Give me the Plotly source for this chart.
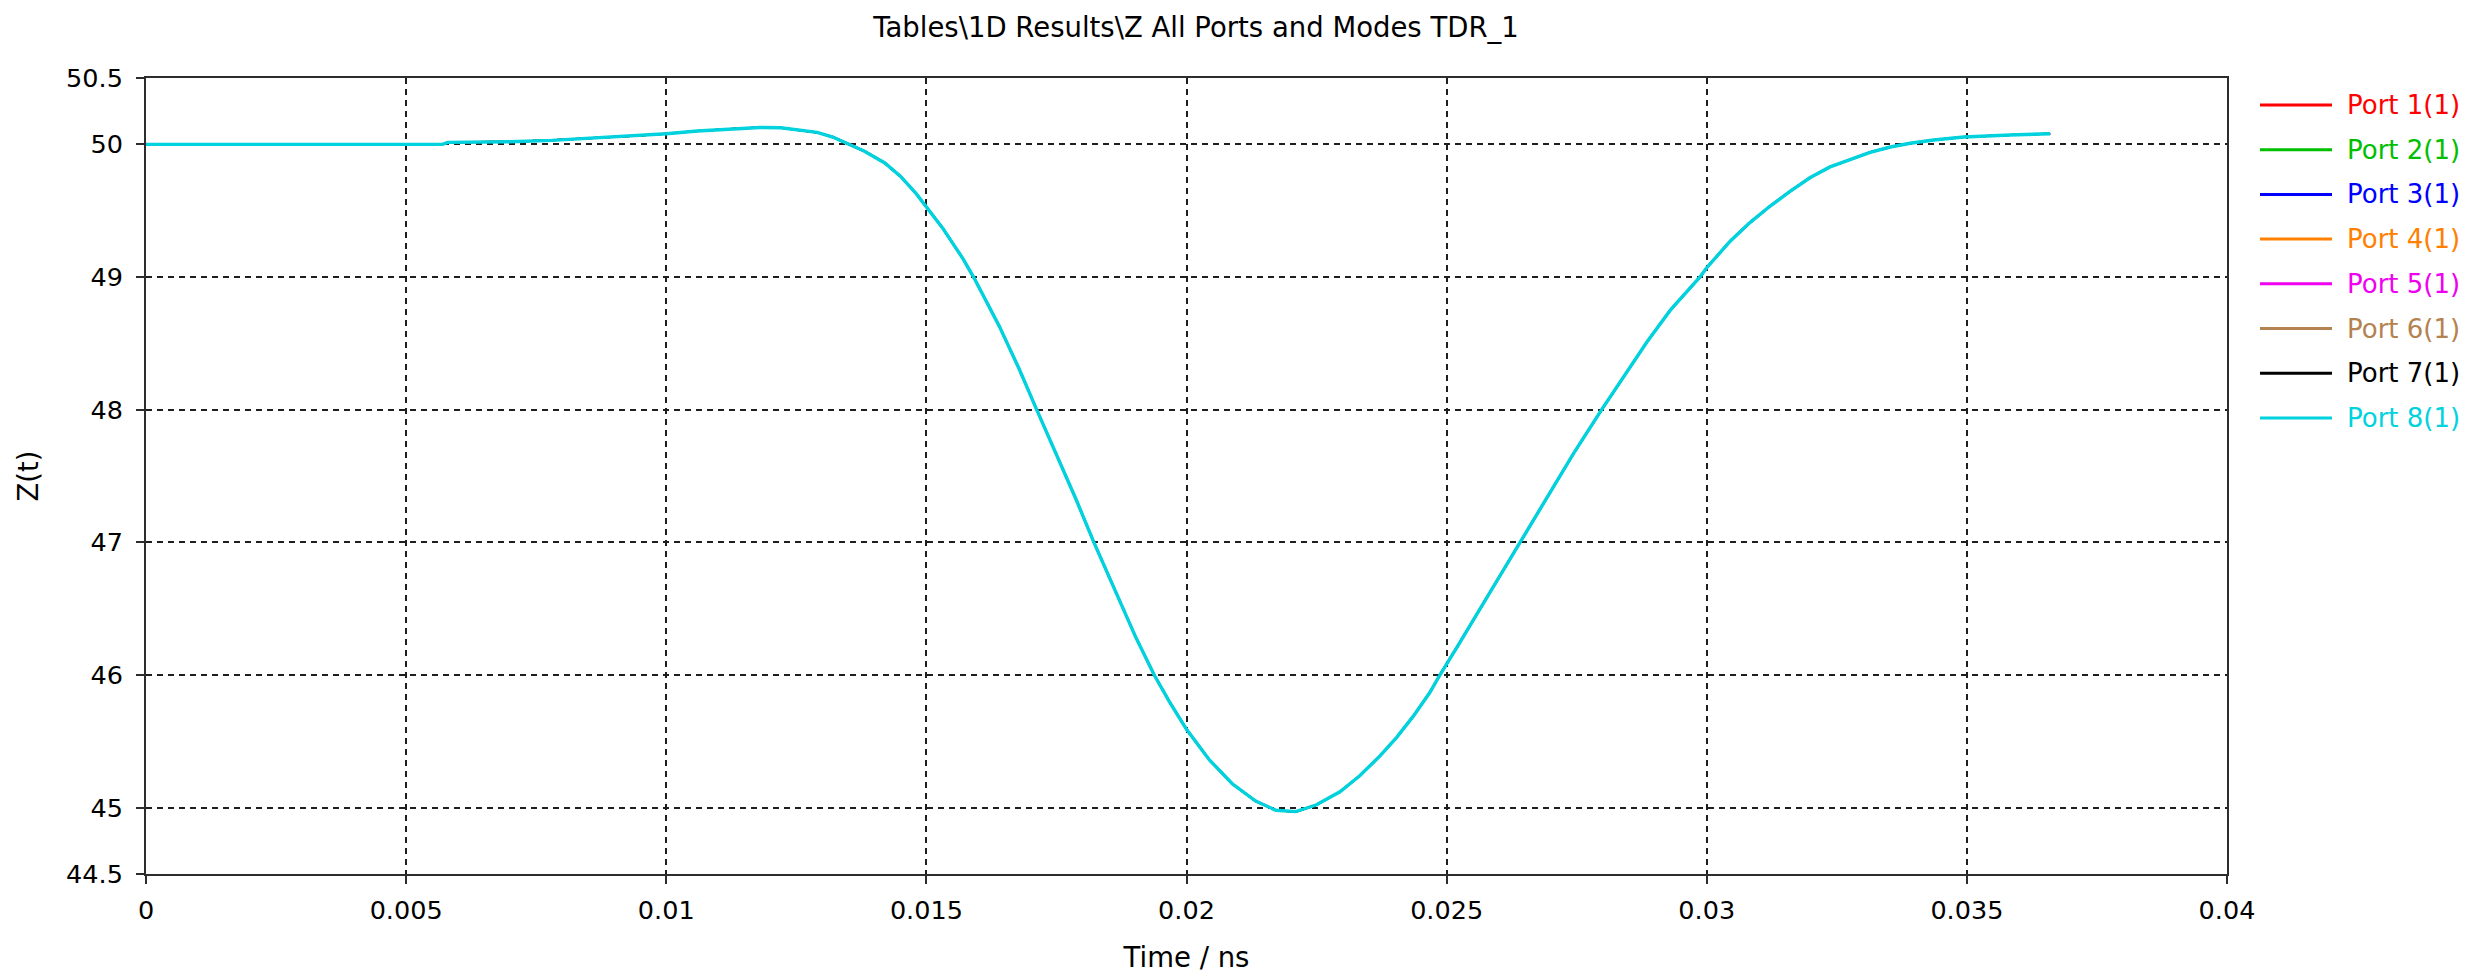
import plotly.graph_objects as go

# ---- data ----
time_ns = [0.0, 0.0057, 0.0058, 0.0070, 0.0078, 0.0088, 0.0094, 0.0100, 0.0106,
           0.0114, 0.0118, 0.0122, 0.0126, 0.0129, 0.0132, 0.0135, 0.0138, 0.0142,
           0.0145, 0.0148, 0.0150, 0.01531, 0.0157, 0.01592, 0.0164, 0.01678,
           0.01712, 0.01749, 0.01787, 0.01822, 0.01864, 0.01903, 0.01938, 0.01967,
           0.0200, 0.02044, 0.02088, 0.02133, 0.02172, 0.0221, 0.02249, 0.02295,
           0.02333, 0.02372, 0.02404, 0.02436, 0.02468, 0.02487, 0.0252, 0.0256,
           0.0260, 0.02641, 0.02692, 0.02744, 0.02798, 0.0284, 0.02885, 0.0293,
           0.02968, 0.02987, 0.0300, 0.03045, 0.03083, 0.03122, 0.0316, 0.03199,
           0.03237, 0.03276, 0.03314, 0.03353, 0.03391, 0.03436, 0.03494, 0.03583,
           0.0366]
z_ohm = [50.0, 50.0, 50.015, 50.02, 50.03, 50.05, 50.065, 50.08, 50.10,
         50.12, 50.127, 50.125, 50.105, 50.09, 50.055, 50.0, 49.95, 49.86,
         49.76, 49.63, 49.53, 49.37, 49.14, 48.99, 48.63, 48.31,
         48.0, 47.67, 47.33, 47.0, 46.62, 46.28, 46.0, 45.80,
         45.59, 45.36, 45.18, 45.05, 44.98, 44.97, 45.02, 45.12,
         45.24, 45.39, 45.53, 45.69, 45.87, 46.0, 46.21, 46.47,
         46.74, 47.0, 47.33, 47.67, 48.0, 48.25, 48.51, 48.75,
         48.92, 49.0, 49.07, 49.27, 49.41, 49.535, 49.645, 49.75,
         49.83, 49.887, 49.94, 49.98, 50.008, 50.033, 50.055, 50.07,
         50.08]

port_names = ["Port 1(1)", "Port 2(1)", "Port 3(1)", "Port 4(1)",
              "Port 5(1)", "Port 6(1)", "Port 7(1)", "Port 8(1)"]
port_colors = ["rgb(255,0,0)", "rgb(0,190,0)", "rgb(0,0,255)", "rgb(255,128,0)",
               "rgb(240,0,240)", "rgb(180,130,80)", "rgb(0,0,0)", "rgb(0,210,222)"]

x_ticks = [0, 0.005, 0.01, 0.015, 0.02, 0.025, 0.03, 0.035, 0.04]
x_tick_labels = ["0", "0.005", "0.01", "0.015", "0.02", "0.025", "0.03", "0.035", "0.04"]
y_ticks = [44.5, 45, 46, 47, 48, 49, 50, 50.5]
y_tick_labels = ["44.5", "45", "46", "47", "48", "49", "50", "50.5"]

title_text = "Tables\\1D Results\\Z All Ports and Modes TDR_1"
x_title = "Time / ns"
y_title = "Z(t)"

# ---- layout constants ----
W, H = 2469, 978
ML, MR, MT, MB = 146, 242, 78, 104
PW, PH = W - ML - MR, H - MT - MB
FONT = "DejaVu Sans"
FS_TICK = 25.5
FS_LEG = 26
FS_TITLE = 27.5

fig = go.Figure()
for i, (name, color) in enumerate(zip(port_names, port_colors)):
    top = (i == len(port_names) - 1)
    fig.add_trace(go.Scatter(x=time_ns, y=z_ohm, mode="lines", name=name,
                             line=dict(color=color, width=3.4 if top else 2),
                             showlegend=False))

# manual legend (line sample + coloured text)
leg_x0, leg_x1, leg_tx = 2260, 2332, 2345
leg_y0, leg_dy = 105, 44.7
shapes = []
annotations = []
for i, (name, color) in enumerate(zip(port_names, port_colors)):
    py = leg_y0 + i * leg_dy
    yp = (H - MB - py) / PH
    shapes.append(dict(type="line", xref="paper", yref="paper",
                       x0=(leg_x0 - ML) / PW, x1=(leg_x1 - ML) / PW, y0=yp, y1=yp,
                       line=dict(color=color, width=3)))
    annotations.append(dict(xref="paper", yref="paper", x=(leg_tx - ML) / PW, y=yp,
                            xanchor="left", yanchor="middle", showarrow=False,
                            text=name, font=dict(family=FONT, size=FS_LEG, color=color)))

axis_common = dict(showline=True, linecolor="rgb(45,45,45)", linewidth=2, mirror=True,
                   ticks="outside", ticklen=8, tickwidth=2, tickcolor="rgb(45,45,45)",
                   showgrid=True, gridcolor="rgb(30,30,30)", gridwidth=2,
                   griddash="6px,5px", zeroline=False,
                   tickfont=dict(family=FONT, size=FS_TICK, color="black"))

fig.update_layout(
    width=W, height=H,
    margin=dict(l=ML, r=MR, t=MT, b=MB, autoexpand=False),
    paper_bgcolor="white", plot_bgcolor="white",
    font=dict(family=FONT, size=FS_TICK, color="black"),
    title=dict(text=title_text, x=(1196 - ML) / PW, xref="paper", xanchor="center",
               y=1 - 27 / H, yanchor="middle",
               font=dict(family=FONT, size=FS_TITLE, color="black")),
    xaxis=dict(range=[0, 0.04], tickvals=x_ticks, ticktext=x_tick_labels,
               ticklabelstandoff=4,
               title=dict(text=x_title, standoff=24, font=dict(family=FONT, size=FS_TITLE)),
               automargin=False, **axis_common),
    yaxis=dict(range=[44.5, 50.5], tickvals=y_ticks, ticktext=y_tick_labels,
               ticklabelstandoff=8,
               title=dict(text=y_title, standoff=19, font=dict(family=FONT, size=FS_TITLE)),
               automargin=False, **axis_common),
    shapes=shapes, annotations=annotations,
)

fig.write_html("out.html")
